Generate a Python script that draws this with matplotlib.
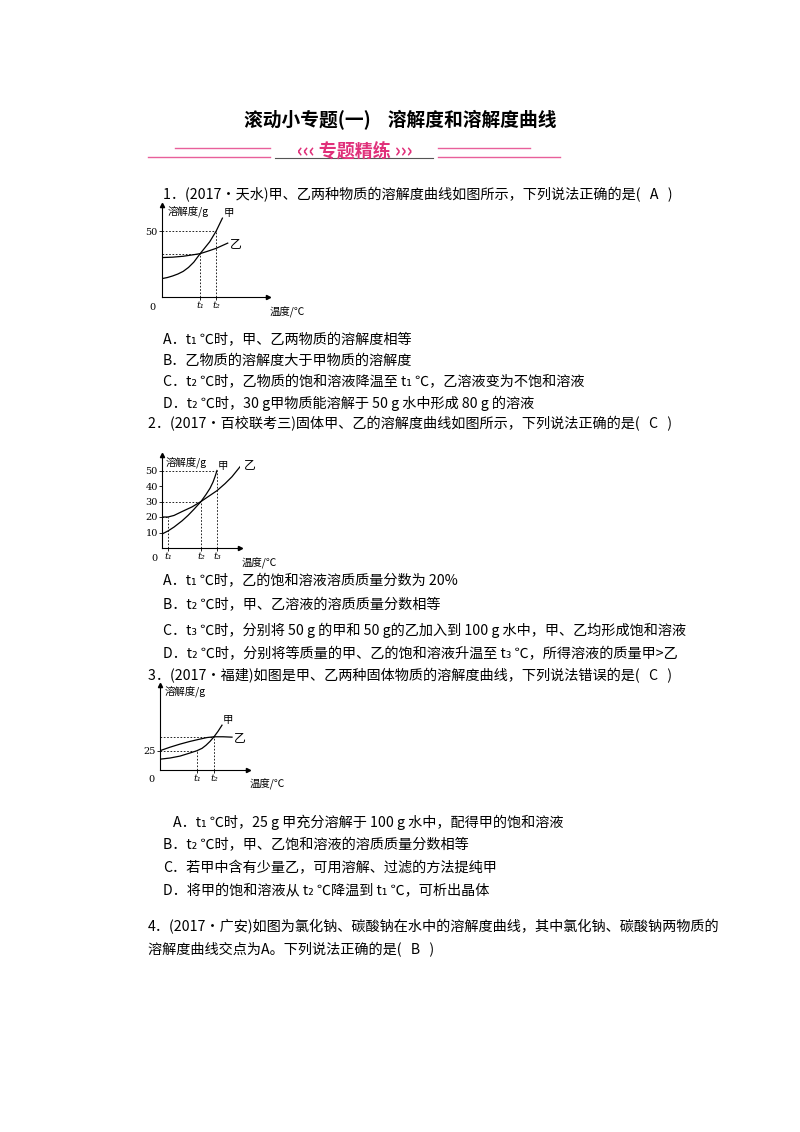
import matplotlib.pyplot as plt

plt.rcParams['font.family'] = ['Noto Sans CJK SC', 'DejaVu Sans']

# chart 1 data
c1_jia_x = [0, 0.5, 1, 1.5, 2, 2.5, 3, 3.6, 4.0, 4.5, 5.1, 5.4, 5.7]
c1_jia_y = [14, 14.8, 16, 17.5, 19.5, 22.5, 26.5, 33, 37, 42, 50, 55, 60]
c1_yi_x = [0, 1, 2, 3, 3.6, 4.3, 5.1, 6.2]
c1_yi_y = [30, 30.3, 31, 32.2, 33, 34.8, 37, 41]
c1_t = [3.6, 5.1]

# chart 2 data
c2_jia_x = [0, 0.6, 1.2, 2, 2.6, 3.2, 3.9, 4.4, 4.8, 5.1, 5.3, 5.5]
c2_jia_y = [9, 11, 13.5, 17.5, 21, 25, 30, 34.5, 38.5, 42.5, 46, 50]
c2_yi_x = [0, 0.6, 1.2, 2, 3, 3.9, 4.7, 5.5, 6.3, 7, 8.0]
c2_yi_y = [20, 20, 21, 23.5, 26.5, 30, 33.5, 37, 41.5, 46, 54]
c2_t = [0.6, 3.9, 5.5]
c2_yticks = [10, 20, 30, 40, 50]

# chart 3 data
c3_jia_x = [0, 1, 2, 3.0, 3.7, 4.2, 4.6, 5.0, 5.4, 5.8, 6.2]
c3_jia_y = [14, 15.5, 18, 22, 25, 28, 32, 37, 43, 50, 58]
c3_yi_x = [0, 1, 2, 3.0, 4, 4.7, 5.4, 6.3, 7.2]
c3_yi_y = [25, 29.5, 33.5, 37, 40, 42, 43, 43, 42.5]
c3_t = [3.7, 5.4]

W, H = 800, 1132
fig = plt.figure(figsize=(8, 11.32), dpi=100)

def txt(x, y, s, **kw):
    kw.setdefault('fontsize', 10.2)
    fig.text(x / W, 1 - y / H, s, va='center', **kw)

def hline(x0, x1, y, color='#e8609a', lw=1):
    fig.add_artist(plt.Line2D([x0 / W, x1 / W], [1 - y / H, 1 - y / H], color=color, lw=lw))

# header
txt(400, 120, '滚动小专题(一)    溶解度和溶解度曲线', ha='center', fontsize=13.5, weight='bold')
hline(175, 270, 148); hline(148, 270, 157)
hline(438, 530, 148); hline(438, 560, 157)
hline(275, 433, 158, color='#555555', lw=0.8)
txt(355, 151, '‹‹‹ 专题精练 ›››', ha='center', fontsize=13, weight='bold', color='#e0307a')

lines = [
    (163, 195, '1．(2017·天水)甲、乙两种物质的溶解度曲线如图所示，下列说法正确的是(   A   )'),
    (163, 340, 'A．t₁ ℃时，甲、乙两物质的溶解度相等'),
    (163, 361, 'B．乙物质的溶解度大于甲物质的溶解度'),
    (163, 382, 'C．t₂ ℃时，乙物质的饱和溶液降温至 t₁ ℃，乙溶液变为不饱和溶液'),
    (163, 403, 'D．t₂ ℃时，30 g甲物质能溶解于 50 g 水中形成 80 g 的溶液'),
    (148, 424, '2．(2017·百校联考三)固体甲、乙的溶解度曲线如图所示，下列说法正确的是(   C   )'),
    (163, 581, 'A．t₁ ℃时，乙的饱和溶液溶质质量分数为 20%'),
    (163, 605, 'B．t₂ ℃时，甲、乙溶液的溶质质量分数相等'),
    (163, 630, 'C．t₃ ℃时，分别将 50 g 的甲和 50 g的乙加入到 100 g 水中，甲、乙均形成饱和溶液'),
    (163, 654, 'D．t₂ ℃时，分别将等质量的甲、乙的饱和溶液升温至 t₃ ℃，所得溶液的质量甲>乙'),
    (148, 676, '3．(2017·福建)如图是甲、乙两种固体物质的溶解度曲线，下列说法错误的是(   C   )'),
    (173, 822, 'A．t₁ ℃时，25 g 甲充分溶解于 100 g 水中，配得甲的饱和溶液'),
    (163, 845, 'B．t₂ ℃时，甲、乙饱和溶液的溶质质量分数相等'),
    (163, 868, 'C．若甲中含有少量乙，可用溶解、过滤的方法提纯甲'),
    (163, 891, 'D．将甲的饱和溶液从 t₂ ℃降温到 t₁ ℃，可析出晶体'),
    (148, 927, '4．(2017·广安)如图为氯化钠、碳酸钠在水中的溶解度曲线，其中氯化钠、碳酸钠两物质的'),
    (148, 950, '溶解度曲线交点为A。下列说法正确的是(   B   )'),
]
for x, y, s in lines:
    txt(x, y, s)

def small_chart(px0, py0, px1, py1, xmax, ymax, jx, jy, yx, yy, ts, tlabels, guides, yticks, ylabel_top):
    ax = fig.add_axes([px0 / W, 1 - py0 / H, (px1 - px0) / W, (py0 - py1) / H])
    ax.set_xlim(0, xmax)
    ax.set_ylim(0, ymax)
    for s in ['top', 'right']:
        ax.spines[s].set_visible(False)
    for s in ['left', 'bottom']:
        ax.spines[s].set_linewidth(0.8)
    ax.plot(1, 0, '>k', transform=ax.transAxes, clip_on=False, ms=3)
    ax.plot(0, 1, '^k', transform=ax.transAxes, clip_on=False, ms=3)
    ax.plot(jx, jy, color='black', lw=0.9)
    ax.plot(yx, yy, color='black', lw=0.9)
    for gx, gy in guides:
        ax.plot([0, gx], [gy, gy], ls=(0, (2, 2)), color='black', lw=0.6)
        ax.plot([gx, gx], [0, gy], ls=(0, (2, 2)), color='black', lw=0.6)
    ax.set_xticks(ts)
    ax.set_xticklabels(tlabels, fontsize=7, style='italic', family='DejaVu Serif')
    ax.set_yticks(yticks)
    ax.set_yticklabels([str(v) for v in yticks], fontsize=7, family='DejaVu Serif')
    ax.tick_params(length=2, width=0.6, pad=1)
    ax.text(-0.06, -0.06, '0', transform=ax.transAxes, fontsize=7, ha='right', va='top', family='DejaVu Serif')
    ax.text(1.02, -0.1, '温度/℃', transform=ax.transAxes, fontsize=7.5, ha='left', va='top')
    ax.text(0.05, ylabel_top, '溶解度/g', transform=ax.transAxes, fontsize=7.5, va='center')
    ax.text(jx[-1] + 0.1, jy[-1], '甲', fontsize=7.5, va='bottom')
    ax.text(yx[-1] + 0.2, yy[-1], '乙', fontsize=8.5, va='center')
    return ax

small_chart(162, 297, 268, 205, 10, 70, c1_jia_x, c1_jia_y, c1_yi_x, c1_yi_y,
            c1_t, ['t₁', 't₂'], [(c1_t[0], 33), (c1_t[1], 50)], [50], 0.93)
small_chart(162, 548, 240, 455, 7.8, 60, c2_jia_x, c2_jia_y, c2_yi_x, c2_yi_y,
            c2_t, ['t₁', 't₂', 't₃'], [(c2_t[0], 20), (c2_t[1], 30), (c2_t[2], 50)],
            c2_yticks, 0.92)
small_chart(160, 770, 248, 685, 8.8, 110, c3_jia_x, c3_jia_y, c3_yi_x, c3_yi_y,
            c3_t, ['t₁', 't₂'], [(c3_t[0], 25), (c3_t[1], 43)], [25], 0.93)

fig.savefig('out.png', dpi=100)
